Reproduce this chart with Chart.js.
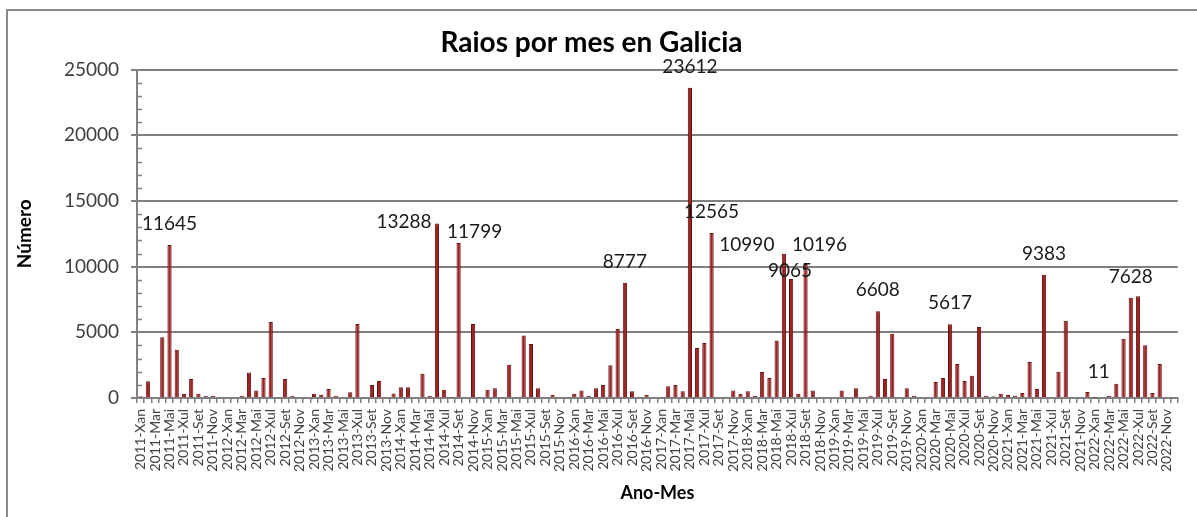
<!DOCTYPE html>
<html>
<head>
<meta charset="utf-8">
<script src="https://cdn.jsdelivr.net/npm/chart.js@4.4.1/dist/chart.umd.min.js"></script>
<style>
  html, body { margin: 0; padding: 0; background: #fff; overflow: hidden; }
  #frame { position: absolute; left: 6px; top: 9px; width: 1200px; height: 520px; border: 2px solid #8a8a8a; }
  #chart { position: absolute; left: 0; top: 0; }
</style>
</head>
<body>
<div id="frame"></div>
<canvas id="chart" width="1197" height="517"></canvas>
<script>
// ============================================================
// Raios por mes en Galicia (2011 - 2022)
// ============================================================

const years = [2011, 2012, 2013, 2014, 2015, 2016, 2017, 2018, 2019, 2020, 2021, 2022];
const months = ['Xan', 'Feb', 'Mar', 'Abr', 'Mai', 'Xuñ', 'Xul', 'Ago', 'Set', 'Out', 'Nov', 'Dec'];

// Raios por mes, un array por ano (Xan..Dec)
const raios2011 = [130, 1270, 80, 4620, 11645, 3680, 330, 1450, 330, 180, 180, 0];
const raios2012 = [0, 0, 180, 1950, 580, 1520, 5790, 0, 1450, 180, 80, 0];
const raios2013 = [330, 250, 690, 180, 0, 430, 5630, 0, 990, 1290, 0, 340];
const raios2014 = [810, 810, 0, 1850, 180, 13288, 630, 30, 11799, 0, 5630, 0];
const raios2015 = [630, 740, 0, 2540, 50, 4750, 4110, 740, 100, 250, 0, 0];
const raios2016 = [330, 580, 180, 740, 990, 2490, 5250, 8777, 510, 100, 250, 0];
const raios2017 = [0, 890, 990, 510, 23612, 3810, 4190, 12565, 0, 100, 580, 330];
const raios2018 = [510, 180, 1980, 1520, 4370, 10990, 9065, 330, 10196, 580, 50, 0];
const raios2019 = [0, 580, 80, 740, 0, 180, 6608, 1450, 4900, 80, 740, 180];
const raios2020 = [80, 0, 1220, 1520, 5617, 2590, 1290, 1700, 5410, 180, 130, 330];
const raios2021 = [250, 180, 380, 2740, 690, 9383, 0, 2000, 5890, 0, 0, 460];
const raios2022 = [11, 0, 180, 1090, 4520, 7628, 7740, 4010, 380, 2590, 0, 0];

// Meses con etiqueta de valor (indice na serie)
const etiquetados = [4, 41, 44, 67, 76, 79, 89, 90, 92, 102, 112, 125, 132, 137];

const yMax = 25000;
const yStep = 5000;

const categories = years.flatMap(y => months.map(m => y + '-' + m));
const raios = [].concat(raios2011, raios2012, raios2013, raios2014, raios2015, raios2016,
                        raios2017, raios2018, raios2019, raios2020, raios2021, raios2022);

// Desprazamento das etiquetas respecto ao tope da barra
const labelOffsets = { 41: [-33, -2], 44: [16, -11], 89: [-37, -9], 90: [-1, -8], 92: [14, -19], 132: [4, -26] };

const valueLabels = {
    id: 'valueLabels',
    afterDatasetsDraw(chart) {
        const meta = chart.getDatasetMeta(0);
        const ctx = chart.ctx;
        ctx.save();
        ctx.font = '19px Lato';
        ctx.fillStyle = '#1a1a1a';
        ctx.textAlign = 'center';
        ctx.textBaseline = 'middle';
        etiquetados.forEach(i => {
            const bar = meta.data[i];
            const [dx, dy] = labelOffsets[i] || [0, -21];
            ctx.fillText(String(raios[i]), bar.x + dx, bar.y + dy);
        });
        ctx.restore();
    }
};

const minorTicks = {
    id: 'minorTicks',
    afterDraw(chart) {
        const y = chart.scales.y;
        const ctx = chart.ctx;
        ctx.save();
        ctx.strokeStyle = '#808080';
        ctx.lineWidth = 1.5;
        for (let v = 1000; v < yMax; v += 1000) {
            if (v % yStep === 0) continue;
            const py = Math.round(y.getPixelForValue(v)) + 0.5;
            ctx.beginPath();
            ctx.moveTo(y.right, py);
            ctx.lineTo(y.right + 5, py);
            ctx.stroke();
        }
        ctx.restore();
    }
};

new Chart(document.getElementById('chart'), {
    type: 'bar',
    data: {
        labels: categories,
        datasets: [{
            data: raios,
            backgroundColor: '#9e2222',
            borderColor: '#661010',
            borderWidth: 1,
            barPercentage: 0.58,
            categoryPercentage: 1
        }]
    },
    options: {
        responsive: false,
        animation: false,
        devicePixelRatio: 1,
        layout: { padding: { left: 0, right: 14, top: 0, bottom: 0 } },
        plugins: {
            legend: { display: false },
            tooltip: { enabled: false },
            title: {
                display: true,
                text: 'Raios por mes en Galicia',
                color: '#000',
                font: { family: 'Lato', size: 28, weight: 'bold' },
                padding: { top: 26, bottom: 10 }
            }
        },
        scales: {
            x: {
                grid: { display: true, drawOnChartArea: false, drawTicks: true, tickLength: 5, color: '#808080', lineWidth: 1.5, offset: true },
                border: { color: '#808080', width: 2 },
                ticks: {
                    autoSkip: false, maxRotation: 90, minRotation: 90, padding: 6,
                    color: '#404040', font: { family: 'Lato', size: 14 },
                    callback: (v, i) => (i % 2 === 0 ? categories[i] : '')
                },
                title: { display: true, text: 'Ano-Mes', color: '#000', font: { family: 'Lato', size: 18, weight: 'bold' }, padding: { top: 0, bottom: 13 } },
                afterFit: s => { s.height = 119; }
            },
            y: {
                min: 0,
                max: yMax,
                ticks: { stepSize: yStep, padding: 12, color: '#404040', font: { family: 'Lato', size: 19 }, callback: v => String(v) },
                grid: { color: '#808080', lineWidth: 2, tickLength: 6 },
                border: { color: '#808080', width: 2 },
                title: { display: true, text: 'Número', color: '#000', font: { family: 'Lato', size: 19, weight: 'bold' }, padding: { top: 13, bottom: 0 } },
                afterFit: s => { s.width = 137; }
            }
        }
    },
    plugins: [valueLabels, minorTicks]
});
</script>
</body>
</html>
